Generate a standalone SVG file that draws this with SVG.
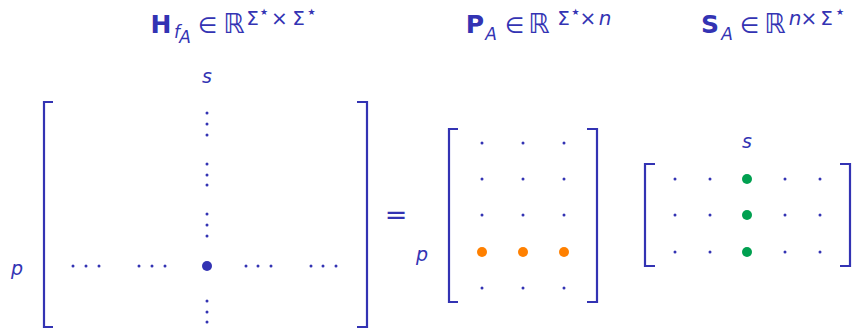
<svg xmlns="http://www.w3.org/2000/svg" width="855" height="329" viewBox="0 0 855 329">
<style>
text{fill:#3333b3;font-family:"DejaVu Sans","Liberation Sans",sans-serif;text-anchor:middle}
.b{font-weight:bold;font-size:25px}
.i{font-style:italic}
.sub{font-style:italic;font-size:17px}
.el{font-size:22px}
.R{font-size:27px}
.sup{font-size:20px}
.st{font-size:9px}
.lbl{font-style:italic;font-size:19px}
.br{fill:none;stroke:#3333b3;stroke-width:2.2}
.d{fill:#3333b3}
</style>
<rect width="855" height="329" fill="#fff"/>
<g id="title-H">
<text x="161" y="33" class="b">H</text>
<text x="177" y="38" class="sub">f</text>
<text x="185" y="43" class="sub" font-size="15">A</text>
<text x="207.5" y="33" class="el">∈</text>
<text x="234" y="33" class="R">ℝ</text>
<text x="252.5" y="25" class="sup">Σ</text>
<text x="264" y="15" class="st">★</text>
<text x="279.5" y="25" class="sup">×</text>
<text x="298.5" y="25" class="sup">Σ</text>
<text x="311.5" y="15" class="st">★</text>
</g>
<g id="title-P">
<text x="475" y="33" class="b">P</text>
<text x="491" y="40" class="sub">A</text>
<text x="514.5" y="33" class="el">∈</text>
<text x="539" y="33" class="R">ℝ</text>
<text x="563.5" y="25" class="sup">Σ</text>
<text x="575.5" y="15" class="st">★</text>
<text x="588" y="25" class="sup">×</text>
<text x="605" y="25" class="sup i">n</text>
</g>
<g id="title-S">
<text x="710" y="33" class="b">S</text>
<text x="727" y="40" class="sub">A</text>
<text x="749.5" y="33" class="el">∈</text>
<text x="775" y="33" class="R">ℝ</text>
<text x="795" y="25" class="sup i">n</text>
<text x="809" y="25" class="sup">×</text>
<text x="826.5" y="25" class="sup">Σ</text>
<text x="840" y="15" class="st">★</text>
</g>
<g id="matrix-H">
<path class="br" d="M53,102 H44 V327 H53 M357,102 H367 V327 H357"/>
<text x="207" y="83" class="lbl">s</text>
<text x="17" y="275" class="lbl">p</text>
<g class="d">
<circle cx="207" cy="113" r="1.5"/><circle cx="207" cy="124" r="1.5"/><circle cx="207" cy="135" r="1.5"/>
<circle cx="207" cy="164" r="1.5"/><circle cx="207" cy="175" r="1.5"/><circle cx="207" cy="185" r="1.5"/>
<circle cx="207" cy="214" r="1.5"/><circle cx="207" cy="225" r="1.5"/><circle cx="207" cy="236" r="1.5"/>
<circle cx="207" cy="301" r="1.5"/><circle cx="207" cy="312" r="1.5"/><circle cx="207" cy="322" r="1.5"/>
<circle cx="73" cy="266" r="1.5"/><circle cx="86" cy="266" r="1.5"/><circle cx="99" cy="266" r="1.5"/>
<circle cx="139" cy="266" r="1.5"/><circle cx="152" cy="266" r="1.5"/><circle cx="165" cy="266" r="1.5"/>
<circle cx="246" cy="266" r="1.5"/><circle cx="258" cy="266" r="1.5"/><circle cx="271" cy="266" r="1.5"/>
<circle cx="311" cy="266" r="1.5"/><circle cx="323" cy="266" r="1.5"/><circle cx="336" cy="266" r="1.5"/>
<circle cx="207" cy="266" r="5"/>
</g>
</g>
<g id="equals">
<text x="396" y="224" font-size="27" font-family="Liberation Sans">=</text>
</g>
<g id="matrix-P">
<path class="br" d="M458,129 H449 V302 H458 M587,129 H597 V302 H587"/>
<text x="422" y="261" class="lbl">p</text>
<g class="d">
<circle cx="482" cy="143" r="1.5"/><circle cx="523" cy="143" r="1.5"/><circle cx="564" cy="143" r="1.5"/>
<circle cx="482" cy="179" r="1.5"/><circle cx="523" cy="179" r="1.5"/><circle cx="564" cy="179" r="1.5"/>
<circle cx="482" cy="215" r="1.5"/><circle cx="523" cy="215" r="1.5"/><circle cx="564" cy="215" r="1.5"/>
<circle cx="482" cy="288" r="1.5"/><circle cx="523" cy="288" r="1.5"/><circle cx="564" cy="288" r="1.5"/>
</g>
<g fill="#ff8000">
<circle cx="482" cy="252" r="5"/><circle cx="523" cy="252" r="5"/><circle cx="564" cy="252" r="5"/>
</g>
</g>
<g id="matrix-S">
<path class="br" d="M655,164 H645 V266 H655 M840,164 H850 V266 H840"/>
<text x="747" y="148" class="lbl">s</text>
<g class="d">
<circle cx="675" cy="179" r="1.5"/><circle cx="710" cy="179" r="1.5"/><circle cx="785" cy="179" r="1.5"/><circle cx="820" cy="179" r="1.5"/>
<circle cx="675" cy="215" r="1.5"/><circle cx="710" cy="215" r="1.5"/><circle cx="785" cy="215" r="1.5"/><circle cx="820" cy="215" r="1.5"/>
<circle cx="675" cy="252" r="1.5"/><circle cx="710" cy="252" r="1.5"/><circle cx="785" cy="252" r="1.5"/><circle cx="820" cy="252" r="1.5"/>
</g>
<g fill="#00a050">
<circle cx="747" cy="179" r="5"/><circle cx="747" cy="215" r="5"/><circle cx="747" cy="252" r="5"/>
</g>
</g>
</svg>
